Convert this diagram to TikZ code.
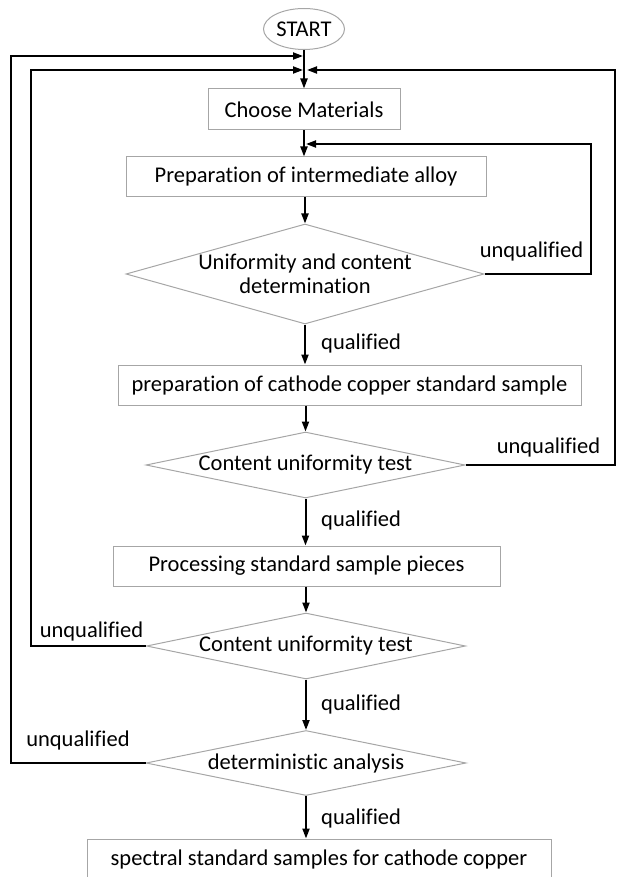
\documentclass[tikz,border=0pt]{standalone}
\usepackage{fontspec}
\setmainfont{Carlito}[Ligatures={NoCommon}]
\usetikzlibrary{arrows.meta,shapes.geometric}
\definecolor{edgegray}{HTML}{A6A6A6}
\tikzset{
  every node/.style={font=\fontsize{22.5}{24.5}\selectfont},
  box/.style={draw=edgegray, line width=1pt, rectangle, inner sep=0pt, minimum height=40pt},
  dia/.style={draw=edgegray, line width=1pt, diamond, inner sep=0pt},
  startnode/.style={draw=edgegray, line width=1pt, ellipse, inner sep=0pt, minimum width=81pt, minimum height=41pt},
  lbl/.style={inner sep=0pt},
  arr/.style={line width=2pt, -{Triangle[length=10pt,width=7pt]}},
  flow/.style={line width=2pt}
}
\begin{document}
\begin{tikzpicture}[x=1pt,y=-1pt]
\useasboundingbox (0,0) rectangle (616,877);

\node[startnode] (start) at (304,29) {START};
\node[box, minimum width=192pt, minimum height=41pt] (choose) at (304,109.5) {Choose Materials};
\node[box, minimum width=360pt] (prep) at (306,177) {Preparation of intermediate alloy};
\node[dia, minimum width=358pt, minimum height=100pt,
  label={[align=center,lbl]center:Uniformity and content\\determination}] (d1) at (305,274) {};
\node[box, minimum width=463pt] (cath) at (349.5,385) {preparation of cathode copper standard sample};
\node[dia, minimum width=319pt, minimum height=66pt,
  label={[lbl]center:Content uniformity test}] (d2) at (305.5,465) {};
\node[box, minimum width=387pt] (proc) at (306.5,566) {Processing standard sample pieces};
\node[dia, minimum width=319pt, minimum height=66pt,
  label={[lbl]center:Content uniformity test}] (d3) at (306,646) {};
\node[dia, minimum width=320pt, minimum height=65pt,
  label={[lbl]center:deterministic analysis}] (d4) at (306,763) {};
\node[box, minimum width=464pt] (final) at (319,859) {spectral standard samples for cathode copper};

% join points on the main axis
\coordinate (jA) at (303,56);
\coordinate (jB) at (303,70);
\coordinate (jC) at (307,70);
\coordinate (jD) at (306,144);

% main flow
\draw[arr] (start.south) -- (start.south |- choose.north);
\draw[arr] (choose.south) -- (choose.south |- prep.north);
\draw[arr] (prep.south -| d1.north) -- (d1.north);
\draw[arr] (d1.south) -- (d1.south |- cath.north);
\draw[arr] (d2.north |- cath.south) -- (d2.north);
\draw[arr] (d2.south) -- (d2.south |- proc.north);
\draw[arr] (proc.south -| d3.north) -- (d3.north);
\draw[arr] (d3.south) -- (d4.north);
\draw[arr] (d4.south) -- (d4.south |- final.north);

% feedback loops
\draw[arr] (d1.east) -- (591,274) -- (591,144) -- (jD);
\draw[arr] (d2.east) -- (615,465) -- (615,70) -- (jC);
\draw[arr] (d3.west) -- (31,646) -- (31,70) -- (jB);
\draw[arr] (d4.west) -- (11,763) -- (11,56) -- (jA);

% labels
\node[lbl] (u1) at (531.5,252) {unqualified};
\node[lbl] (u2) at (548.5,447) {unqualified};
\node[lbl] (u3) at (91.5,631) {unqualified};
\node[lbl] (u4) at (78,740) {unqualified};
\node[lbl, anchor=west] (q1) at (321,343) {qualified};
\node[lbl, anchor=west] (q2) at (321,520) {qualified};
\node[lbl, anchor=west] (q3) at (321,704) {qualified};
\node[lbl, anchor=west] (q4) at (321,818) {qualified};
\end{tikzpicture}
\end{document}
